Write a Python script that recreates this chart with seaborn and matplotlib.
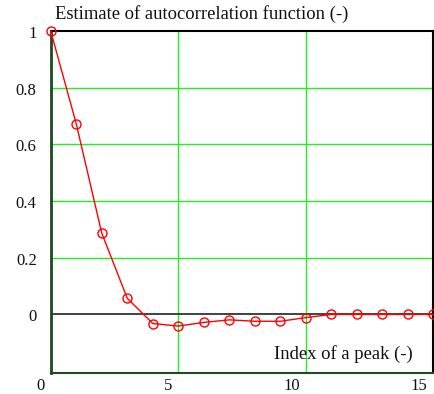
import matplotlib
matplotlib.use("Agg")
import matplotlib.pyplot as plt
import matplotlib.transforms as mtransforms
import seaborn as sns
import pandas as pd

# Autocorrelation estimate per peak index
peak_index = [0, 1, 2, 3, 4, 5, 6, 7, 8, 9, 10, 11, 12, 13, 14, 15]
acf_values = [1.0, 0.673, 0.287, 0.057, -0.032, -0.041, -0.028, -0.019,
              -0.024, -0.024, -0.011, 0.0, 0.0, 0.0, 0.0, 0.0]
x_ticks = [0, 5, 10, 15]
y_ticks = [0, 0.2, 0.4, 0.6, 0.8, 1]
y_tick_labels = ["0", "0.2", "0.4", "0.6", "0.8", "1"]

title_text = "Estimate of autocorrelation function (-)"
x_label_text = "Index of a peak (-)"

df = pd.DataFrame({"index": peak_index, "acf": acf_values})

sns.set_theme(style="white")
plt.rcParams["font.family"] = ["Liberation Serif", "DejaVu Serif"]

W, H = 435, 394
fig = plt.figure(figsize=(W / 100, H / 100), dpi=100)
ax = fig.add_axes([50.7 / W, 1 - 373 / H, (433.5 - 50.7) / W, (373 - 31) / H])

grid_green = "#22ee22"
for x in [5, 10, 15]:
    ax.axvline(x, color=grid_green, lw=1, zorder=1)
for y in [0.2, 0.4, 0.6, 0.8]:
    ax.axhline(y, color=grid_green, lw=1, zorder=1)
ax.axhline(0, color="#333333", lw=1.3, zorder=2)

sns.lineplot(data=df, x="index", y="acf", ax=ax, color="red", lw=1,
             marker="o", markersize=6.5, markerfacecolor="none",
             markeredgecolor="red", markeredgewidth=1, clip_on=False,
             zorder=3)

ax.set_xlim(0, 15)
ax.set_ylim(-0.2065, 1.0)

# Tick labels drawn as text so they can sit slightly off the tick positions
ax.set_xticks(x_ticks)
ax.set_yticks(y_ticks)
ax.set_xticklabels([])
ax.set_yticklabels([])
ax.tick_params(axis="both", length=0)

tick_fs = 12
x_off = mtransforms.ScaledTranslation(-6 / 100, -5 / 100, fig.dpi_scale_trans)
for v in x_ticks:
    ax.text(v, 0, str(v), transform=ax.get_xaxis_transform() + x_off,
            ha="right", va="top", fontsize=tick_fs, color="#111111")
y_off = mtransforms.ScaledTranslation(-14 / 100, -3 / 100, fig.dpi_scale_trans)
for v, lab in zip(y_ticks, y_tick_labels):
    ax.text(0, v, lab, transform=ax.get_yaxis_transform() + y_off,
            ha="right", va="center", fontsize=tick_fs, color="#111111")

ax.set_xlabel("")
ax.set_ylabel("")

dark_green = "#1f4a1f"
ax.spines["left"].set_color(dark_green)
ax.spines["left"].set_linewidth(2)
ax.spines["bottom"].set_color(dark_green)
ax.spines["bottom"].set_linewidth(1.5)
ax.spines["top"].set_color("black")
ax.spines["top"].set_linewidth(1.5)
ax.spines["right"].set_color("black")
ax.spines["right"].set_linewidth(1.5)

label_fs = 13.4
fig.text(55 / W, 1 - 14 / H, title_text, fontsize=label_fs, ha="left",
         va="center", color="#111111")
fig.text(413 / W, 1 - 354 / H, x_label_text, fontsize=label_fs, ha="right",
         va="center", color="#111111")

fig.savefig("out.png", dpi=100)
